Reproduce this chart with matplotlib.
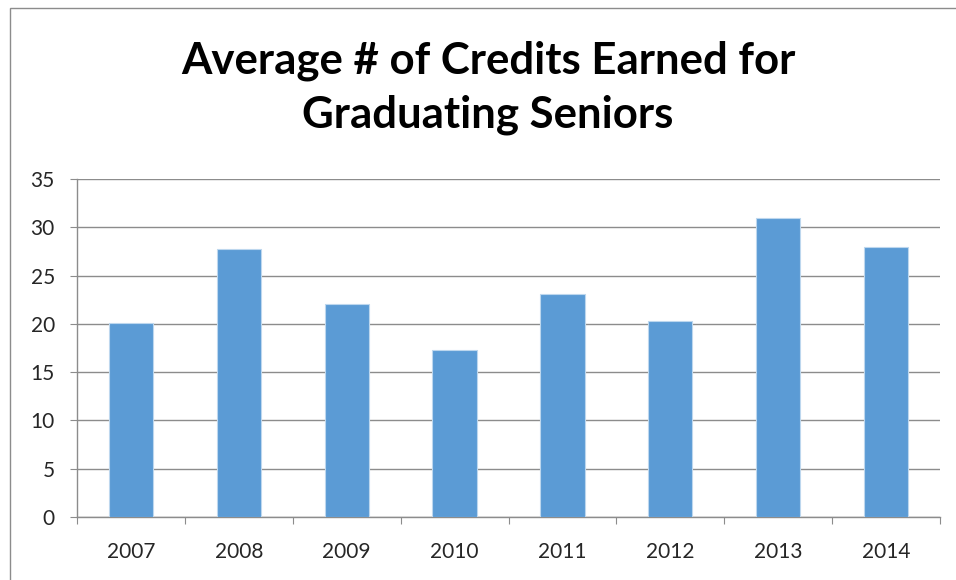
import numpy as np
import matplotlib
matplotlib.use("Agg")
import matplotlib.pyplot as plt
from matplotlib.patches import Rectangle

# data
years = ["2007", "2008", "2009", "2010", "2011", "2012", "2013", "2014"]
credits = [20.1, 27.7, 22.1, 17.3, 23.1, 20.3, 31.0, 28.0]
y_ticks = [0, 5, 10, 15, 20, 25, 30, 35]

title = "Average # of Credits Earned for\nGraduating Seniors"

plt.rcParams["font.family"] = ["Lato", "DejaVu Sans"]

W, H = 956, 580
fig = plt.figure(figsize=(W / 100, H / 100), dpi=100)
fig.patch.set_facecolor("white")

# outer chart frame (starts at x=10, y=8 and runs off the image)
fig.add_artist(Rectangle((10 / W, -0.01), 1.0, 1 - 8 / H + 0.01, transform=fig.transFigure,
                         fill=False, ec="#8c8c8c", lw=1.0))

ax = fig.add_axes([77 / W, 1 - 517 / H, (940 - 77) / W, (517 - 179) / H])
x = np.arange(len(years))
ax.bar(x, credits, width=0.41, color="#5B9BD5", edgecolor="#BDD7EE", linewidth=0.8, zorder=3)

ax.set_xlim(-0.5, len(years) - 0.5)
ax.set_ylim(0, 35)
ax.set_yticks(y_ticks)
ax.yaxis.grid(True, color="#8c8c8c", lw=1.0, zorder=0)

# category boundaries carry the tick marks, labels sit in between
ax.set_xticks(np.arange(len(years) + 1) - 0.5)
ax.set_xticklabels([])
ax.set_xticks(x, minor=True)
ax.set_xticklabels(years, minor=True)
ax.tick_params(axis="x", which="major", direction="out", length=5, color="#8c8c8c")
ax.tick_params(axis="x", which="minor", length=0, pad=18, labelsize=15, labelcolor="#262626")
ax.tick_params(axis="y", direction="out", length=5, color="#8c8c8c", pad=11,
               labelsize=15, labelcolor="#262626")

for s in ["top", "right"]:
    ax.spines[s].set_visible(False)
for s in ["left", "bottom"]:
    ax.spines[s].set_color("#8c8c8c")
    ax.spines[s].set_linewidth(1.0)

fig.text(488 / W, 1 - 88 / H, title, ha="center", va="center", fontsize=31.5,
         fontweight="bold", color="black", linespacing=1.42)

fig.savefig("out.png", dpi=100)
